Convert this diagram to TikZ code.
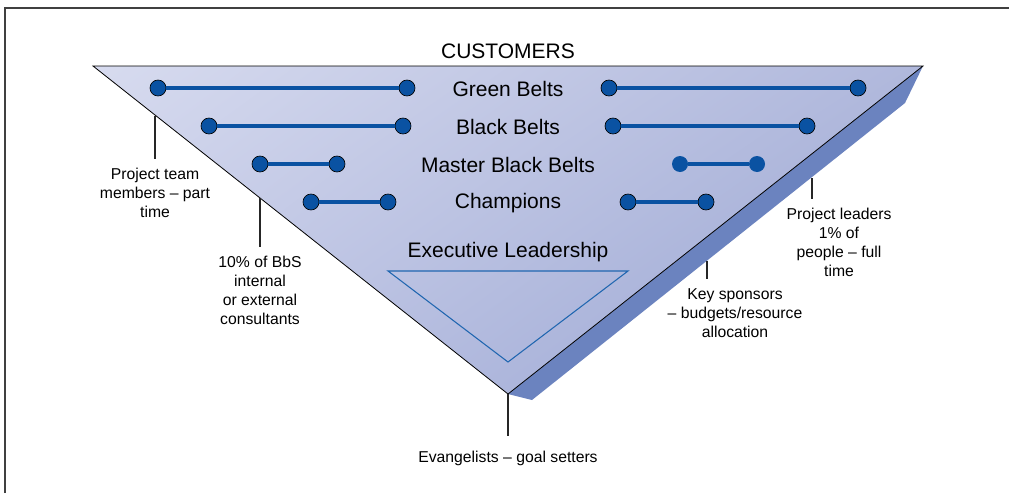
\documentclass[tikz,border=0pt]{standalone}
\usepackage{fontspec}
\setmainfont{Liberation Sans}
\usetikzlibrary{positioning,shadings}
\definecolor{beltblue}{HTML}{0A52A2}
\definecolor{faceA}{HTML}{D7DBEF}
\definecolor{faceB}{HTML}{B0B8DC}
\definecolor{faceC}{HTML}{C2C8E6}
\definecolor{faceD}{HTML}{97A3D1}
\definecolor{sideblue}{HTML}{6B83BF}
\definecolor{execblue}{HTML}{2066B0}

\begin{document}
\begin{tikzpicture}[x=0.75pt,y=-0.75pt,
  dot/.style={circle,fill=beltblue,draw=black,line width=0.5pt,inner sep=0pt,minimum size=12pt},
  dotplain/.style={circle,fill=beltblue,inner sep=0pt,minimum size=12pt},
  belt/.style={line width=2.3pt,draw=beltblue},
  rank/.style={font=\fontsize{15.75}{18}\selectfont,inner sep=1pt},
  note/.style={font=\fontsize{11.8}{14.25}\selectfont,align=center,inner sep=1pt},
  tick/.style={line width=0.8pt,draw=black!85,shorten >=6pt}]
\useasboundingbox (0,0) rectangle (1009,493);
% frame
\draw[line width=1.5pt,black!75] (5,493) -- (5,8) -- (1009,8);
% pyramid corners
\coordinate (tl) at (93,66);
\coordinate (tr) at (923,66);
\coordinate (apex) at (508,394);
\coordinate (sb) at (905,103);
\coordinate (sa) at (532,400);
% side face
\fill[sideblue] (tr) -- (sb) -- (sa) -- (apex) -- cycle;
% front face
\shadedraw[upper left=faceA,upper right=faceB,lower left=faceC,lower right=faceD,
  draw=black,line width=0.6pt] (tl) -- (tr) -- (apex) -- cycle;
% titles
\node[rank] (cust) at (508,51) {CUSTOMERS};
\node[rank] (exec) at (508,252) {Executive Leadership};
\coordinate (el) at (388,271);
\coordinate (er) at (628,271);
\coordinate (eb) at (508,362);
\draw[execblue,line width=0.8pt] (el) -- (er) -- (eb) -- cycle;
% belt rows
\foreach \y/\a/\b/\c/\d/\o/\txt [count=\i] in {
  88/158/407/609/858/dot/Green Belts,
  126/209/403/613/807/dot/Black Belts,
  164/260/337/680/757/dotplain/Master Black Belts,
  202/311/388/628/706/dot/Champions} {
  \node[rank] (r\i) at (508,\y+1) {\txt};
  \node[dot] (la\i) at (\a,\y) {};
  \node[dot] (lb\i) at (\b,\y) {};
  \node[\o] (ra\i) at (\c,\y) {};
  \node[\o] (rb\i) at (\d,\y) {};
  \draw[belt] (la\i) -- (lb\i);
  \draw[belt] (ra\i) -- (rb\i);
}
% call-outs
\node[note] (team) at (155,193) {Project team\\members -- part\\time};
\node[note] (consult) at (260,290.5) {10\% of BbS\\internal\\or external\\consultants};
\node[note] (leaders) at (839,242.5) {Project leaders\\1\% of\\people -- full\\time};
\node[note] (sponsors) at (735,313) {Key sponsors\\-- budgets/resource\\allocation};
\node[note] (evang) at (508,458) {Evangelists -- goal setters};
\coordinate (teamtop) at (155,116);
\coordinate (consulttop) at (260,198);
\coordinate (leadtop) at (812,178);
\coordinate (spontop) at (707,261);
\draw[tick] (teamtop) -- (team.north);
\draw[tick] (consulttop) -- (consult.north);
\draw[tick] (leadtop) -- (leadtop |- leaders.north);
\draw[tick] (spontop) -- (spontop |- sponsors.north);
\draw[tick,shorten >=10pt] (apex) -- (evang.north);
\end{tikzpicture}
\end{document}
